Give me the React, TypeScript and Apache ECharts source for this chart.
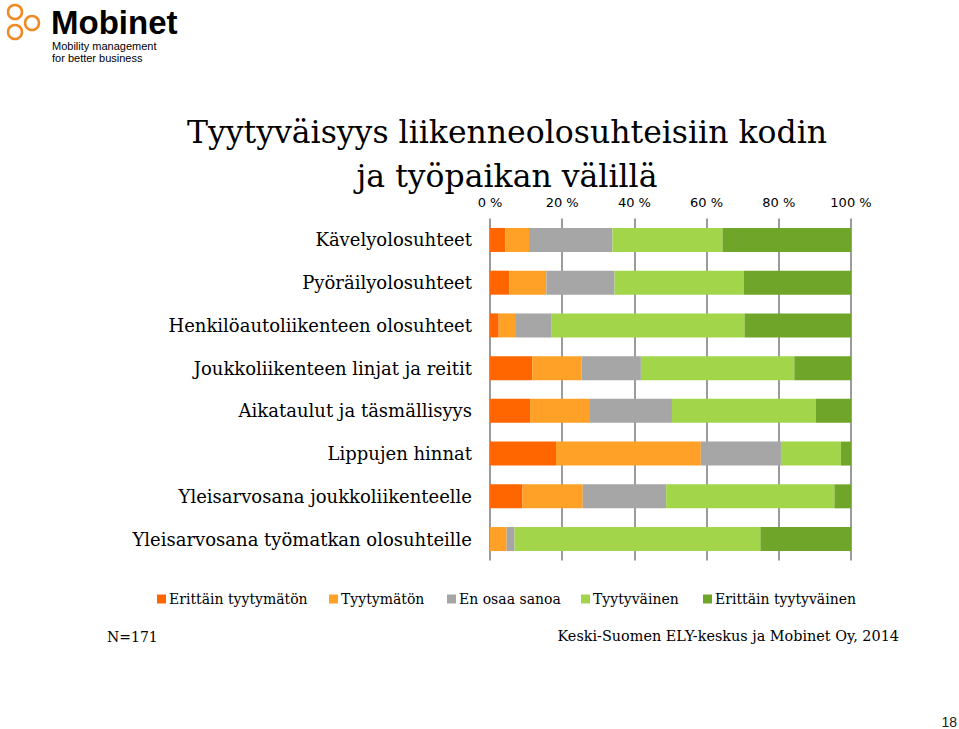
import React, { useEffect, useRef } from "react";
import * as echarts from "echarts";

const categories = [
  "Kävelyolosuhteet",
  "Pyöräilyolosuhteet",
  "Henkilöautoliikenteen olosuhteet",
  "Joukkoliikenteen linjat ja reitit",
  "Aikataulut ja täsmällisyys",
  "Lippujen hinnat",
  "Yleisarvosana joukkoliikenteelle",
  "Yleisarvosana työmatkan olosuhteille",
];

const seriesNames = [
  "Erittäin tyytymätön",
  "Tyytymätön",
  "En osaa sanoa",
  "Tyytyväinen",
  "Erittäin tyytyväinen",
];

const erittainTyytymaton = [4.2, 5.4, 2.4, 11.7, 11.1, 18.3, 9.0, 0];
const tyytymaton = [6.6, 10.2, 4.8, 13.7, 16.6, 40.1, 16.7, 4.6];
const enOsaaSanoa = [23.1, 18.9, 9.9, 16.4, 22.7, 22.2, 23.1, 2.2];
const tyytyvainen = [30.5, 35.8, 53.4, 42.5, 39.8, 16.6, 46.6, 68.1];
const erittainTyytyvainen = [35.6, 29.7, 29.5, 15.7, 9.8, 2.8, 4.6, 25.1];

const seriesData = [erittainTyytymaton, tyytymaton, enOsaaSanoa, tyytyvainen, erittainTyytyvainen];
const colors = ["#ff6600", "#ffa126", "#a6a6a6", "#a3d54a", "#6fa62a"];
const legendLefts = [157, 329, 447, 581, 703];

const SERIF = "'DejaVu Serif', serif";
const SANS = "'Liberation Sans', Arial, sans-serif";
const AXIS_SANS = "'DejaVu Sans', Verdana, sans-serif";

export default function App() {
  const ref = useRef<HTMLDivElement>(null);
  useEffect(() => {
    document.body.style.margin = "0";
    const chart = echarts.init(ref.current!, null, { renderer: "svg" });
    const titleStyle = {
      fontFamily: SERIF,
      fontSize: 31.5,
      fontWeight: "normal",
      color: "#000",
      lineHeight: 31,
    };
    chart.setOption({
      animation: false,
      backgroundColor: "#ffffff",
      title: {
        text: "Tyytyväisyys liikenneolosuhteisiin kodin",
        subtext: "ja työpaikan välillä",
        left: 507,
        top: 116,
        padding: 0,
        itemGap: 12,
        textAlign: "center",
        textStyle: titleStyle,
        subtextStyle: titleStyle,
      },
      legend: seriesNames.map((n, i) => ({
        data: [n],
        left: legendLefts[i],
        top: 592,
        padding: 0,
        itemWidth: 9,
        itemHeight: 9,
        itemGap: 0,
        icon: "rect",
        selectedMode: false,
        textStyle: { fontFamily: SERIF, fontSize: 14, color: "#000", padding: [0, 0, 0, -2] },
      })),
      grid: { left: 490, right: 108, top: 218.6, bottom: 168.6, containLabel: false },
      xAxis: {
        type: "value",
        position: "top",
        min: 0,
        max: 100,
        interval: 20,
        axisLine: { show: false },
        axisTick: { show: false },
        axisLabel: {
          formatter: "{value} %",
          fontFamily: AXIS_SANS,
          fontSize: 13,
          color: "#000",
          margin: 9.5,
        },
        splitLine: { show: true, lineStyle: { color: "#7a7a7a", width: 1.5 } },
      },
      yAxis: {
        type: "category",
        data: categories,
        inverse: true,
        axisLine: { show: false },
        axisTick: { show: false },
        axisLabel: { fontFamily: SERIF, fontSize: 18, color: "#000", margin: 18 },
      },
      series: seriesNames.map((n, i) => ({
        name: n,
        type: "bar",
        stack: "total",
        barWidth: 24,
        data: seriesData[i],
        itemStyle: { color: colors[i] },
      })),
      graphic: [
        { type: "circle", shape: { cx: 15, cy: 12, r: 7 }, style: { fill: "none", stroke: "#f08a24", lineWidth: 2.5 } },
        { type: "circle", shape: { cx: 32, cy: 23, r: 7 }, style: { fill: "none", stroke: "#f08a24", lineWidth: 2.5 } },
        { type: "circle", shape: { cx: 15, cy: 32, r: 7 }, style: { fill: "none", stroke: "#f08a24", lineWidth: 2.5 } },
        { type: "text", x: 51, y: 22, style: { text: "Mobinet", font: `bold 33px ${SANS}`, fill: "#000", textVerticalAlign: "middle" } },
        { type: "text", x: 52, y: 45.5, style: { text: "Mobility management", font: `11px ${SANS}`, fill: "#000", textVerticalAlign: "middle" } },
        { type: "text", x: 52, y: 57.5, style: { text: "for better business", font: `11px ${SANS}`, fill: "#000", textVerticalAlign: "middle" } },
        { type: "text", x: 107, y: 637, style: { text: "N=171", font: `14px ${SERIF}`, fill: "#000", textVerticalAlign: "middle" } },
        { type: "text", x: 899, y: 636, style: { text: "Keski-Suomen ELY-keskus ja Mobinet Oy, 2014", font: `14.4px ${SERIF}`, fill: "#000", textAlign: "right", textVerticalAlign: "middle" } },
        { type: "text", x: 957, y: 722, style: { text: "18", font: `14px ${SANS}`, fill: "#222", textAlign: "right", textVerticalAlign: "middle" } },
      ],
    });
    return () => chart.dispose();
  }, []);
  return <div ref={ref} style={{ width: 959, height: 729 }} />;
}
